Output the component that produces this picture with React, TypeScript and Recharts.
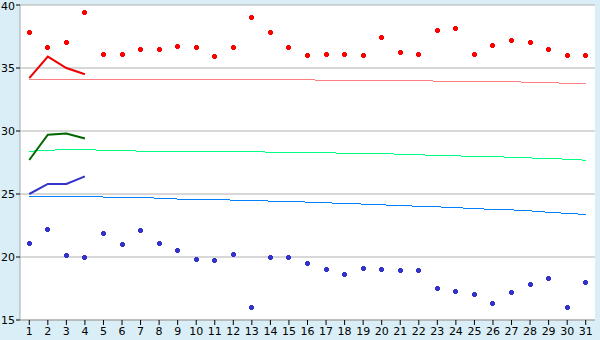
import React from 'react';
import { ComposedChart, Line, XAxis, YAxis, CartesianGrid } from 'recharts';

const days = [1,2,3,4,5,6,7,8,9,10,11,12,13,14,15,16,17,18,19,20,21,22,23,24,25,26,27,28,29,30,31];
const maxTemps = [37.8,36.6,37.0,39.4,36.1,36.1,36.5,36.5,36.7,36.6,35.9,36.6,39.0,37.8,36.6,36.0,36.1,36.1,36.0,37.4,36.2,36.1,38.0,38.1,36.1,36.8,37.2,37.0,36.5,36.0,36.0];
const minTemps = [21.1,22.2,20.1,20.0,21.9,21.0,22.1,21.1,20.5,19.8,19.7,20.2,16.0,20.0,20.0,19.5,19.0,18.6,19.1,19.0,18.9,18.9,17.5,17.3,17.0,16.3,17.2,17.8,18.3,16.0,18.0];
const obsMax = [34.2,35.9,35.0,34.5];
const obsAvg = [27.7,29.7,29.8,29.4];
const obsMin = [25.0,25.8,25.8,26.4];
const normalMax = [34.12,34.12,34.12,34.11,34.11,34.11,34.10,34.10,34.10,34.09,34.09,34.08,34.08,34.07,34.07,34.06,34.03,34.02,34.02,34.01,34.00,33.99,33.96,33.95,33.94,33.93,33.92,33.86,33.82,33.80,33.78];
const normalAvg = [28.40,28.45,28.55,28.55,28.45,28.42,28.41,28.40,28.40,28.39,28.38,28.37,28.36,28.32,28.30,28.29,28.27,28.24,28.22,28.20,28.16,28.12,28.05,28.02,28.00,27.96,27.92,27.86,27.82,27.76,27.68];
const normalMin = [24.84,24.83,24.82,24.81,24.76,24.75,24.74,24.66,24.60,24.56,24.54,24.52,24.47,24.44,24.40,24.36,24.30,24.25,24.20,24.14,24.08,24.03,23.98,23.92,23.84,23.78,23.74,23.66,23.55,23.46,23.38];
const yTicks = [15,20,25,30,35,40];

const data = days.map((d, i) => ({
  day: d,
  max: maxTemps[i],
  min: minTemps[i],
  oMax: i < obsMax.length ? obsMax[i] : null,
  oAvg: i < obsAvg.length ? obsAvg[i] : null,
  oMin: i < obsMin.length ? obsMin[i] : null,
  nMax: normalMax[i],
  nAvg: normalAvg[i],
  nMin: normalMin[i],
}));

const makeDot = (color: string) => (props: any) => {
  const { cx, cy, key } = props;
  if (cx == null || cy == null) return <g key={key} />;
  const x0 = Math.round(cx - 2.5);
  const y0 = Math.round(cy - 2.5);
  const d = `M${x0 + 1},${y0} h3 v1 h1 v3 h-1 v1 h-3 v-1 h-1 v-3 h1 z`;
  return <path key={key} d={d} fill={color} stroke="none" shapeRendering="crispEdges" />;
};

const font = { fontFamily: 'DejaVu Sans', fontSize: 11, fill: '#000' };

export default function App() {
  return (
    <div style={{ position: 'absolute', left: 0, top: 0, width: 600, height: 340, background: '#d9eef6' }}>
      <ComposedChart width={600} height={340} data={data} margin={{ top: 5, right: 5, bottom: 0, left: 0 }}>
        <CartesianGrid yAxisId="t" vertical={false} stroke="#b0b0b0" fill="#ffffff" fillOpacity={1} />
        <XAxis dataKey="day" scale="band" interval={0} height={20} tickSize={5} tickMargin={2}
          axisLine={{ stroke: '#a8a8a8' }} tickLine={{ stroke: '#000' }} tick={font} />
        <YAxis yAxisId="t" domain={[15, 40]} ticks={yTicks} width={20} tickSize={4} tickMargin={1}
          axisLine={{ stroke: '#a8a8a8' }} tickLine={{ stroke: '#000' }} tick={font} allowDataOverflow />
        <YAxis yAxisId="r" orientation="right" domain={[15, 40]} width={0} tick={false} tickLine={false}
          axisLine={{ stroke: '#a8a8a8' }} />
        <Line yAxisId="t" dataKey="nMax" stroke="#ff8080" strokeWidth={1} dot={false} activeDot={false} isAnimationActive={false} style={{ shapeRendering: 'crispEdges' }} />
        <Line yAxisId="t" dataKey="nAvg" stroke="#00ff80" strokeWidth={1} dot={false} activeDot={false} isAnimationActive={false} style={{ shapeRendering: 'crispEdges' }} />
        <Line yAxisId="t" dataKey="nMin" stroke="#0080ff" strokeWidth={1} dot={false} activeDot={false} isAnimationActive={false} style={{ shapeRendering: 'crispEdges' }} />
        <Line yAxisId="t" dataKey="oMax" stroke="#ee0000" strokeWidth={2} dot={false} activeDot={false} connectNulls={false} isAnimationActive={false} />
        <Line yAxisId="t" dataKey="oAvg" stroke="#006600" strokeWidth={2} dot={false} activeDot={false} connectNulls={false} isAnimationActive={false} />
        <Line yAxisId="t" dataKey="oMin" stroke="#3333cc" strokeWidth={2} dot={false} activeDot={false} connectNulls={false} isAnimationActive={false} />
        <Line yAxisId="t" dataKey="max" stroke="none" dot={makeDot('#ff0000')} activeDot={false} isAnimationActive={false} />
        <Line yAxisId="t" dataKey="min" stroke="none" dot={makeDot('#3333cc')} activeDot={false} isAnimationActive={false} />
      </ComposedChart>
    </div>
  );
}
